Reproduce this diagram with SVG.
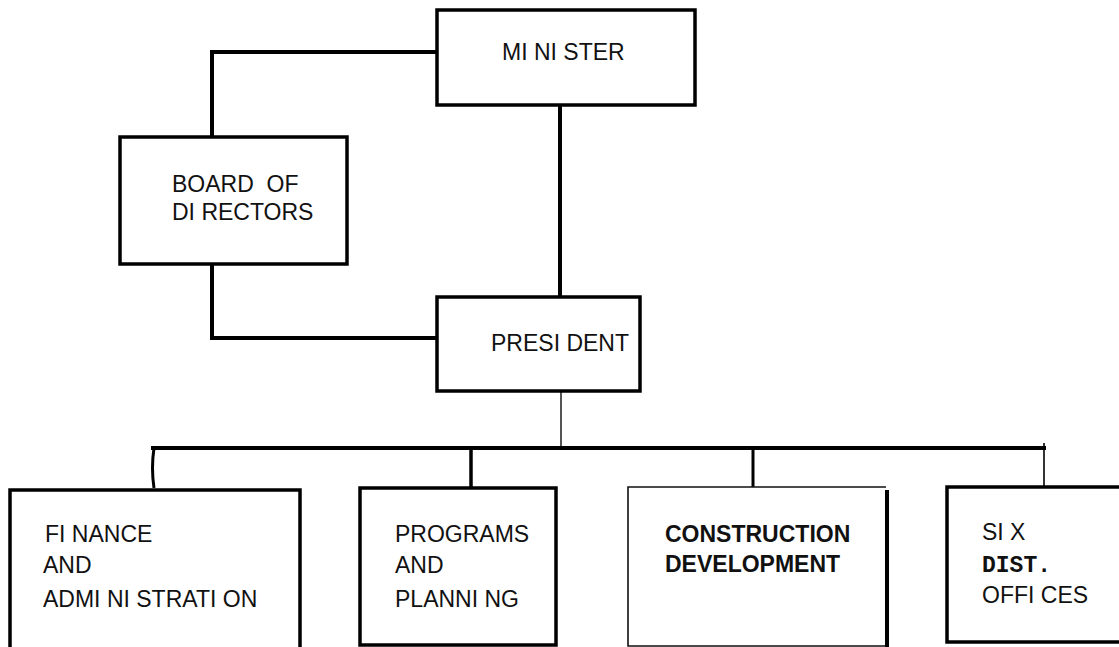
<svg xmlns="http://www.w3.org/2000/svg" width="1119" height="647" viewBox="0 0 1119 647">
<style>
.box{fill:#fff;stroke:#000;stroke-width:3.5}
.thin{fill:none;stroke:#111;stroke-width:1.6}
.wire{fill:none;stroke:#000;stroke-width:4;stroke-linecap:square}
.lbl{font-family:"Liberation Sans",Arial,sans-serif;font-size:23px;fill:#111;white-space:pre}
.bold{font-weight:bold}
.mono{font-family:"Liberation Mono","Courier New",monospace;font-weight:bold;font-size:23px;fill:#111}
</style>
<rect width="1119" height="647" fill="#fff"/>
<g id="connectors">
<polyline class="wire" points="437,52 212,52 212,137"/>
<polyline class="wire" points="212,264 212,338 437,338"/>
<line class="wire" x1="560" y1="105" x2="560" y2="297"/>
<line x1="561" y1="392" x2="561" y2="446" stroke="#555" stroke-width="2"/>
<line class="wire" x1="153" y1="448" x2="1044" y2="448"/>
<path d="M154,448 Q151,468 154,488" fill="none" stroke="#000" stroke-width="3"/>
<line x1="471" y1="448" x2="471" y2="488" stroke="#000" stroke-width="3.5"/>
<line x1="753" y1="448" x2="753" y2="487" stroke="#000" stroke-width="3"/>
<line x1="1044" y1="443" x2="1044" y2="487" stroke="#000" stroke-width="1.6"/>
</g>
<g id="minister">
<rect class="box" x="437" y="10" width="258" height="95"/>
<text class="lbl" x="502" y="60">MI NI STER</text>
</g>
<g id="board">
<rect class="box" x="120" y="137" width="227" height="127"/>
<text class="lbl" x="172" y="192" xml:space="preserve">BOARD  OF</text>
<text class="lbl" x="172" y="220">DI RECTORS</text>
</g>
<g id="president">
<rect class="box" x="437" y="297" width="203" height="94"/>
<text class="lbl" x="491" y="351">PRESI DENT</text>
</g>
<g id="finance">
<rect class="box" x="10" y="490" width="290" height="170"/>
<text class="lbl" x="45" y="542">FI NANCE</text>
<text class="lbl" x="43" y="573">AND</text>
<text class="lbl" x="43" y="607">ADMI NI STRATI ON</text>
</g>
<g id="programs">
<rect class="box" x="360" y="488" width="196" height="157"/>
<text class="lbl" x="395" y="542">PROGRAMS</text>
<text class="lbl" x="395" y="573">AND</text>
<text class="lbl" x="395" y="607">PLANNI NG</text>
</g>
<g id="construction">
<rect x="628" y="487" width="259" height="160" fill="#fff"/>
<polyline class="thin" points="886,487 628,487 628,646 886,646"/>
<line x1="887" y1="490" x2="887" y2="647" stroke="#000" stroke-width="4"/>
<text class="lbl bold" x="665" y="542">CONSTRUCTION</text>
<text class="lbl bold" x="665" y="572">DEVELOPMENT</text>
</g>
<g id="six">
<rect class="box" x="947" y="487" width="190" height="155"/>
<text class="lbl" x="982" y="540">SI X</text>
<text class="mono" x="982" y="572">DIST.</text>
<text class="lbl" x="982" y="603">OFFI CES</text>
</g>
</svg>
